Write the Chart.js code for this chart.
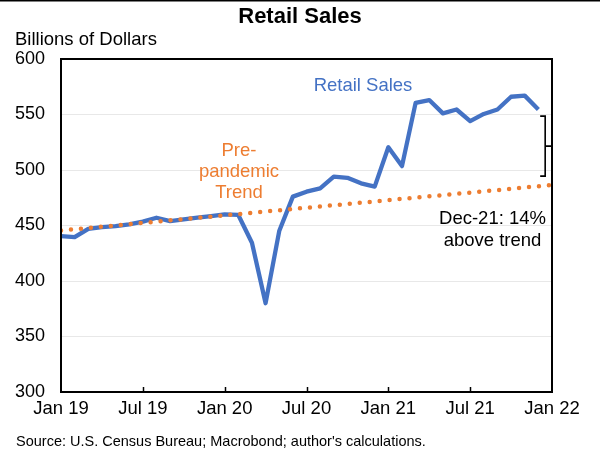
<!DOCTYPE html>
<html>
<head>
<meta charset="utf-8">
<script src="https://cdn.jsdelivr.net/npm/chart.js@4/dist/chart.umd.min.js"></script>
<style>
  html, body { margin: 0; padding: 0; background: #ffffff; }
  #c { display: block; }
</style>
</head>
<body>
<canvas id="c" width="600" height="451"></canvas>
<script>
// ---- Data ----
const months = [
  'Jan 2019','Feb 2019','Mar 2019','Apr 2019','May 2019','Jun 2019','Jul 2019','Aug 2019','Sep 2019','Oct 2019','Nov 2019','Dec 2019',
  'Jan 2020','Feb 2020','Mar 2020','Apr 2020','May 2020','Jun 2020','Jul 2020','Aug 2020','Sep 2020','Oct 2020','Nov 2020','Dec 2020',
  'Jan 2021','Feb 2021','Mar 2021','Apr 2021','May 2021','Jun 2021','Jul 2021','Aug 2021','Sep 2021','Oct 2021','Nov 2021','Dec 2021'
];
const retailSales = [
  440.5, 439.5, 447, 448.5, 449.5, 451, 453.5, 457, 454, 455.5, 457, 458.5,
  460, 459.5, 434.5, 380, 445, 476, 480.5, 483.5, 494, 493, 488, 485,
  520.5, 503.5, 560.5, 563, 551, 554.5, 544, 550.5, 554.5, 566, 567, 554.5
];
// Pre-pandemic linear trend: endpoints (Jan 19 and Jan 22)
const trendX = [0, 36];
const trendValues = [445.5, 486.5];
const xTickLabels = ['Jan 19','Jul 19','Jan 20','Jul 20','Jan 21','Jul 21','Jan 22'];
const yTicks = [300, 350, 400, 450, 500, 550, 600];

const BLUE = '#4472C4';
const ORANGE = '#ED7D31';
const FONT = '"Liberation Sans", Arial, sans-serif';

const salesPoints = retailSales.map((v, i) => ({ x: i, y: v }));
const trendPoints = trendValues.map((v, i) => ({ x: trendX[i], y: v }));

const decorPlugin = {
  id: 'decor',
  afterDatasetsDraw(chart) {
    const { ctx, chartArea: a, scales } = chart;
    const xs = scales.x, ys = scales.y;
    ctx.save();
    // plot box
    ctx.strokeStyle = '#000';
    ctx.lineWidth = 2;
    ctx.strokeRect(a.left, a.top, a.right - a.left, a.bottom - a.top);
    // inner x tick marks
    ctx.lineWidth = 1.5;
    for (let m = 6; m < 36; m += 6) {
      const px = Math.round(xs.getPixelForValue(m)) + 0.5;
      ctx.beginPath();
      ctx.moveTo(px, a.bottom);
      ctx.lineTo(px, a.bottom - 5);
      ctx.stroke();
    }
    // bracket
    const bx = xs.getPixelForValue(35.5);
    const bTop = ys.getPixelForValue(548.5);
    const bBot = ys.getPixelForValue(494.5);
    const bMid = (bTop + bBot) / 2;
    ctx.lineWidth = 1.6;
    ctx.beginPath();
    ctx.moveTo(bx - 5, bTop);
    ctx.lineTo(bx, bTop);
    ctx.lineTo(bx, bBot);
    ctx.lineTo(bx - 5, bBot);
    ctx.moveTo(bx, bMid);
    ctx.lineTo(a.right, bMid);
    ctx.stroke();
    ctx.restore();
  },
  afterDraw(chart) {
    const { ctx } = chart;
    ctx.save();
    // top frame line
    ctx.fillStyle = '#000';
    ctx.fillRect(0, 0, 600, 1.5);
    // title
    ctx.fillStyle = '#000';
    ctx.font = 'bold 22px ' + FONT;
    ctx.textAlign = 'center';
    ctx.textBaseline = 'alphabetic';
    ctx.fillText('Retail Sales', 300, 23);
    // y axis title
    ctx.font = '18.5px ' + FONT;
    ctx.textAlign = 'left';
    ctx.fillText('Billions of Dollars', 15, 44.5);
    // source
    ctx.font = '14.5px ' + FONT;
    ctx.textBaseline = 'middle';
    ctx.fillStyle = '#000';
    ctx.fillText("Source: U.S. Census Bureau; Macrobond; author's calculations.", 16, 442);
    // annotations
    ctx.font = '18.5px ' + FONT;
    ctx.textAlign = 'center';
    ctx.fillStyle = BLUE;
    ctx.fillText('Retail Sales', 363, 86);
    ctx.fillStyle = ORANGE;
    ctx.fillText('Pre-', 239, 151);
    ctx.fillText('pandemic', 239, 172);
    ctx.fillText('Trend', 239, 193);
    ctx.fillStyle = '#000';
    ctx.fillText('Dec-21: 14%', 492.5, 219);
    ctx.fillText('above trend', 492.5, 240.5);
    ctx.restore();
  }
};

new Chart(document.getElementById('c'), {
  type: 'line',
  data: {
    datasets: [
      {
        label: 'Pre-pandemic Trend',
        data: trendPoints,
        borderColor: ORANGE,
        borderWidth: 4.5,
        borderDash: [0, 10],
        borderCapStyle: 'round',
        pointRadius: 0,
        fill: false,
        tension: 0
      },
      {
        label: 'Retail Sales',
        data: salesPoints,
        borderColor: BLUE,
        borderWidth: 4.3,
        borderJoinStyle: 'round',
        borderCapStyle: 'butt',
        pointRadius: 0,
        fill: false,
        tension: 0
      }
    ]
  },
  options: {
    responsive: false,
    animation: false,
    devicePixelRatio: 1,
    layout: { padding: { left: 0, top: 59, right: 48, bottom: 0 } },
    plugins: { legend: { display: false }, tooltip: { enabled: false }, title: { display: false } },
    scales: {
      x: {
        type: 'linear',
        min: 0,
        max: 36,
        afterFit(s) { s.height = 59; },
        afterBuildTicks(s) { s.ticks = xTickLabels.map((_, i) => ({ value: i * 6 })); },
        ticks: {
          autoSkip: false,
          maxRotation: 0,
          padding: 6,
          color: '#000',
          font: { family: FONT, size: 18.5 },
          callback: (v) => xTickLabels[Math.round(v / 6)]
        },
        grid: { display: false, drawTicks: false },
        border: { display: false }
      },
      y: {
        min: 300,
        max: 600,
        afterFit(s) { s.width = 61; },
        afterBuildTicks(s) { s.ticks = yTicks.map(v => ({ value: v })); },
        ticks: {
          padding: 16,
          color: '#000',
          font: { family: FONT, size: 18 }
        },
        grid: { color: '#e8e8e8', lineWidth: 1, drawTicks: false },
        border: { display: false }
      }
    }
  },
  plugins: [decorPlugin]
});
</script>
</body>
</html>
